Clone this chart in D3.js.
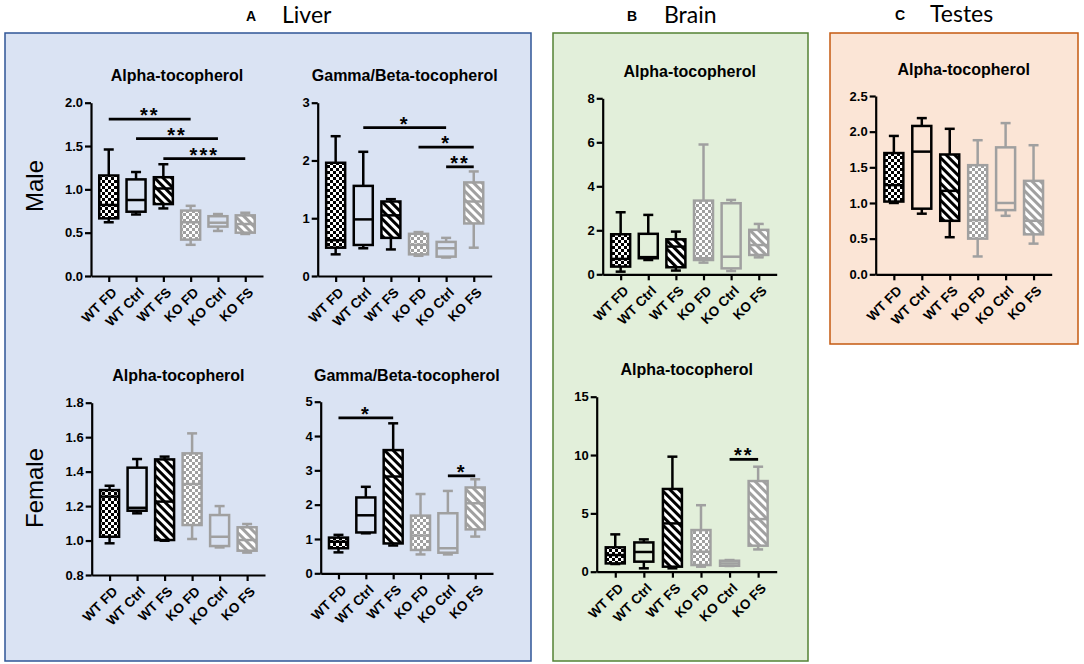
<!DOCTYPE html>
<html><head><meta charset="utf-8">
<script src="https://cdn.jsdelivr.net/npm/d3@7"></script>
<style>body{margin:0;background:#fff}</style>
</head><body>
<svg id="c" width="1084" height="664"></svg>
<script>
// ---------- DATA ----------
const categories = ["WT FD","WT Ctrl","WT FS","KO FD","KO Ctrl","KO FS"];
// each entry: [whisker min, Q1, median, Q3, whisker max]
const liverMaleAlpha = [
  [0.62,0.665,0.82,1.16,1.46],
  [0.71,0.742,0.877,1.115,1.2],
  [0.78,0.83,1.01,1.14,1.29],
  [0.36,0.42,0.62,0.755,0.81],
  [0.52,0.57,0.615,0.69,0.715],
  [0.485,0.5,0.6,0.70,0.73]];
const liverMaleGammaBeta = [
  [0.375,0.49,0.62,1.96,2.42],
  [0.48,0.537,0.98,1.56,2.15],
  [0.46,0.66,1.05,1.29,1.33],
  [0.35,0.375,0.54,0.73,0.76],
  [0.32,0.335,0.48,0.59,0.66],
  [0.49,0.91,1.29,1.62,1.81]];
const liverFemaleAlpha = [
  [0.984,1.022,1.255,1.293,1.318],
  [1.158,1.173,1.19,1.423,1.473],
  [0.999,1.003,1.226,1.471,1.487],
  [1.009,1.09,1.328,1.506,1.622],
  [0.96,0.968,1.022,1.148,1.2],
  [0.93,0.941,1.003,1.077,1.096]];
const liverFemaleGammaBeta = [
  [0.61,0.73,0.92,1.04,1.12],
  [1.165,1.19,1.69,2.21,2.52],
  [0.81,0.87,2.82,3.59,4.37],
  [0.55,0.68,1.1,1.68,2.31],
  [0.55,0.6,0.73,1.75,2.4],
  [1.07,1.28,2.04,2.5,2.74]];
const brainMaleAlpha = [
  [0.12,0.35,0.7,1.82,2.82],
  [0.65,0.73,0.78,1.84,2.7],
  [0.17,0.32,1.26,1.59,1.94],
  [0.53,0.65,0.73,3.35,5.9],
  [0.15,0.27,0.8,3.23,3.38],
  [0.77,0.88,1.33,2.02,2.29]];
const brainFemaleAlpha = [
  [0.66,0.71,1.43,2.09,3.2],
  [0.29,0.86,1.69,2.51,2.77],
  [0.29,0.43,4.14,7.09,9.86],
  [0.43,0.57,1.71,3.57,5.7],
  [0.49,0.51,0.71,0.94,1.0],
  [1.91,2.23,4.51,7.77,9.0]];
const testesAlpha = [
  [1.0,1.02,1.25,1.70,1.94],
  [0.85,0.92,1.72,2.08,2.19],
  [0.52,0.75,1.17,1.68,2.04],
  [0.25,0.5,0.76,1.53,1.88],
  [0.82,0.9,1.0,1.78,2.12],
  [0.43,0.56,0.75,1.31,1.81]];
// significance brackets: [from, to, y value, label]
const liverMaleAlphaSig = [["WT FD","KO FD",1.81,"**"],["WT Ctrl","KO Ctrl",1.585,"**"],["WT FS","KO FS",1.354,"***"]];
const liverMaleGammaBetaSig = [["WT Ctrl","KO Ctrl",2.57,"*"],["KO FD","KO FS",2.23,"*"],["KO Ctrl","KO FS",1.89,"**"]];
const liverFemaleGammaBetaSig = [["WT FD","WT FS",4.53,"*"],["KO Ctrl","KO FS",2.84,"*"]];
const brainFemaleAlphaSig = [["KO Ctrl","KO FS",9.63,"**"]];
// tick labels
const ticksLMA = [0,0.5,1.0,1.5,2.0];
const ticksLMG = [0,1,2,3];
const ticksLFA = [0.8,1.0,1.2,1.4,1.6,1.8];
const ticksLFG = [0,1,2,3,4,5];
const ticksBMA = [0,2,4,6,8];
const ticksBFA = [0,5,10,15];
const ticksTA = [0,0.5,1.0,1.5,2.0,2.5];

// ---------- DRAW ----------
const svg = d3.select("#c");
const FONT = "'Liberation Sans', Arial, sans-serif";
const BLACK = "#000", GRAY = "#a0a0a0";

const defs = svg.append("defs");
function checker(id, col){
  const p = defs.append("pattern").attr("id",id).attr("patternUnits","userSpaceOnUse").attr("width",6).attr("height",6);
  p.append("rect").attr("width",6).attr("height",6).attr("fill","#fff");
  p.append("rect").attr("width",3).attr("height",3).attr("fill",col);
  p.append("rect").attr("x",3).attr("y",3).attr("width",3).attr("height",3).attr("fill",col);
}
function stripe(id, col){
  const p = defs.append("pattern").attr("id",id).attr("patternUnits","userSpaceOnUse").attr("width",6).attr("height",6).attr("patternTransform","rotate(-45)");
  p.append("rect").attr("width",6).attr("height",6).attr("fill","#fff");
  p.append("rect").attr("width",3).attr("height",6).attr("fill",col);
}
checker("chkK",BLACK); checker("chkG",GRAY); stripe("strK",BLACK); stripe("strG",GRAY);

// section backgrounds
const sections = [
  {x:5,y:33,w:526,h:628,fill:"#dae3f3",stroke:"#2f5597",letter:"A",name:"Liver",lx:251,nx:282,ny:23},
  {x:553,y:33,w:255,h:628,fill:"#e2efda",stroke:"#548235",letter:"B",name:"Brain",lx:632,nx:664,ny:23},
  {x:830,y:33,w:248,h:311,fill:"#fbe5d6",stroke:"#c55a11",letter:"C",name:"Testes",lx:900,nx:930,ny:22}
];
sections.forEach(s=>{
  svg.append("rect").attr("x",s.x).attr("y",s.y).attr("width",s.w).attr("height",s.h)
    .attr("fill",s.fill).attr("stroke",s.stroke).attr("stroke-width",1.5);
  svg.append("text").attr("x",s.lx).attr("y",s.ny-2).attr("text-anchor","middle")
    .attr("font-family",FONT).attr("font-weight","bold").attr("font-size",14).text(s.letter);
  svg.append("text").attr("x",s.nx).attr("y",s.ny).attr("font-family","Lato, sans-serif")
    .attr("font-size",23).text(s.name);
});

// row labels
[["Male",186],["Female",488]].forEach(([t,cy])=>{
  svg.append("text").attr("transform",`translate(43,${cy}) rotate(-90)`).attr("text-anchor","middle")
    .attr("font-family",FONT).attr("font-size",24).text(t);
});

function drawPanel(c){
  const g = svg.append("g");
  const x = d3.scalePoint().domain(categories).range([c.x0,c.x1]).padding(0.65);
  const y = d3.scaleLinear().domain([c.ticks[0], c.ticks[c.ticks.length-1]]).range([c.yBot,c.yTop]);
  // title
  g.append("text").attr("x",(c.x0+c.x1)/2).attr("y",c.titleY).attr("text-anchor","middle")
    .attr("font-family",FONT).attr("font-weight","bold").attr("font-size",16).text(c.title);
  // y axis
  const ya = g.append("g").attr("transform",`translate(${c.x0},0)`)
    .call(d3.axisLeft(y).tickValues(c.ticks).tickFormat(d3.format(c.fmt)).tickSize(6).tickSizeOuter(0));
  // x axis
  const xa = g.append("g").attr("transform",`translate(0,${c.yBot})`)
    .call(d3.axisBottom(x).tickSize(6).tickSizeOuter(0));
  [ya,xa].forEach(a=>{
    a.selectAll("path,line").attr("stroke","#000").attr("stroke-width",2.2);
    a.selectAll("text").attr("font-family",FONT).attr("font-weight","bold").attr("font-size",13).attr("fill","#000");
  });
  ya.selectAll("text").attr("x",-8);
  xa.selectAll("text").attr("text-anchor","end").attr("dy","0.35em").attr("font-size",13.5)
    .attr("transform","translate(5,14) rotate(-45)").attr("y",0).attr("x",0);

  const bw = 19, cw = 10;
  c.data.forEach((d,i)=>{
    const cat = categories[i];
    const col = cat.startsWith("WT") ? BLACK : GRAY;
    const fill = cat.endsWith("FD") ? (col===BLACK?"url(#chkK)":"url(#chkG)")
               : cat.endsWith("FS") ? (col===BLACK?"url(#strK)":"url(#strG)") : "none";
    const cx = x(cat);
    const [mn,q1,md,q3,mx] = d;
    const bg = g.append("g").attr("stroke",col).attr("stroke-width",2.5).attr("fill","none");
    bg.append("line").attr("x1",cx).attr("x2",cx).attr("y1",y(mx)).attr("y2",y(q3));
    bg.append("line").attr("x1",cx).attr("x2",cx).attr("y1",y(q1)).attr("y2",y(mn));
    bg.append("line").attr("x1",cx-cw/2).attr("x2",cx+cw/2).attr("y1",y(mx)).attr("y2",y(mx));
    bg.append("line").attr("x1",cx-cw/2).attr("x2",cx+cw/2).attr("y1",y(mn)).attr("y2",y(mn));
    bg.append("rect").attr("x",cx-bw/2).attr("width",bw).attr("y",y(q3)).attr("height",Math.max(1,y(q1)-y(q3))).attr("fill",fill);
    bg.append("line").attr("x1",cx-bw/2).attr("x2",cx+bw/2).attr("y1",y(md)).attr("y2",y(md));
  });
  (c.sig||[]).forEach(([a,b,v,lab])=>{
    g.append("line").attr("x1",x(a)).attr("x2",x(b)).attr("y1",y(v)).attr("y2",y(v))
      .attr("stroke","#000").attr("stroke-width",2.8);
    g.append("text").attr("x",(x(a)+x(b))/2).attr("y",y(v)+3).attr("text-anchor","middle")
      .attr("font-family",FONT).attr("font-weight","bold").attr("font-size",20).attr("letter-spacing",2)
      .text(lab);
  });
}

drawPanel({data:liverMaleAlpha,sig:liverMaleAlphaSig,ticks:ticksLMA,fmt:".1f",x0:91,x1:263,yTop:102.7,yBot:276,title:"Alpha-tocopherol",titleY:81});
drawPanel({data:liverMaleGammaBeta,sig:liverMaleGammaBetaSig,ticks:ticksLMG,fmt:"d",x0:317.7,x1:491.7,yTop:102.7,yBot:276,title:"Gamma/Beta-tocopherol",titleY:81});
drawPanel({data:liverFemaleAlpha,ticks:ticksLFA,fmt:".1f",x0:91.7,x1:265,yTop:402.7,yBot:575,title:"Alpha-tocopherol",titleY:381});
drawPanel({data:liverFemaleGammaBeta,sig:liverFemaleGammaBetaSig,ticks:ticksLFG,fmt:"d",x0:320.7,x1:493,yTop:401.7,yBot:573.3,title:"Gamma/Beta-tocopherol",titleY:381});
drawPanel({data:brainMaleAlpha,ticks:ticksBMA,fmt:"d",x0:602.7,x1:776.7,yTop:98.3,yBot:274.3,title:"Alpha-tocopherol",titleY:77});
drawPanel({data:brainFemaleAlpha,sig:brainFemaleAlphaSig,ticks:ticksBFA,fmt:"d",x0:596.7,x1:776.7,yTop:396.7,yBot:571.7,title:"Alpha-tocopherol",titleY:375});
drawPanel({data:testesAlpha,ticks:ticksTA,fmt:".1f",x0:875.7,x1:1051.7,yTop:96,yBot:274.3,title:"Alpha-tocopherol",titleY:75});
</script>
</body></html>
